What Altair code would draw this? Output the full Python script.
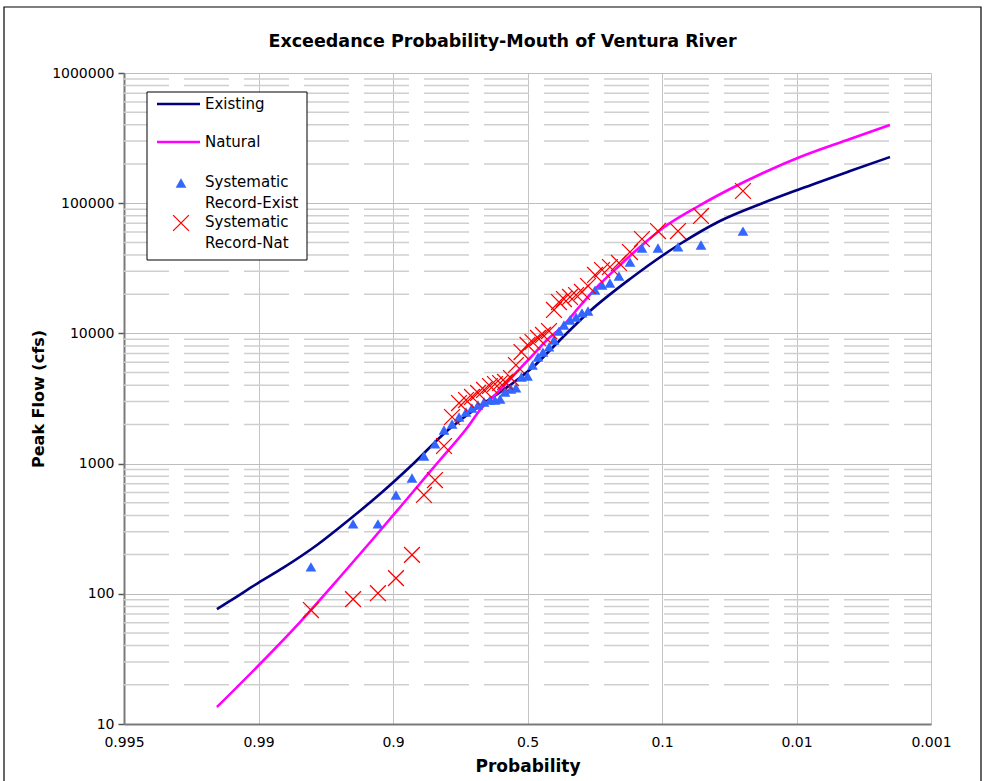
import altair as alt
import pandas as pd

# ---- axis ticks ----
prob_labels = ["0.995", "0.99", "0.9", "0.5", "0.1", "0.01", "0.001"]
flow_ticks = [10, 100, 1000, 10000, 100000, 1000000]

# ---- frequency curves (position on probability axis, peak flow cfs) ----
exist_pos = [0.691, 0.788, 0.996, 1.182, 1.435, 1.680, 1.903, 2.149, 2.401, 2.572,
             2.721, 2.892, 3.041, 3.242, 3.465, 3.762, 4.134, 4.431, 4.751, 5.026,
             5.398, 5.695]
exist_flow = [76.4, 88.1, 121, 158, 237, 375, 584, 993, 1780, 2446,
              3134, 4160, 5520, 8900, 14860, 26180, 48600, 73000, 100400, 128500,
              176600, 226300]

natural_pos = [0.691, 0.996, 1.309, 1.606, 1.851, 2.104, 2.349, 2.550, 2.647, 2.773,
               2.892, 3.019, 3.145, 3.264, 3.390, 3.539, 3.688, 3.836, 4.007, 4.260,
               4.506, 4.751, 5.026, 5.398, 5.695]
natural_flow = [13.5, 27.9, 60.7, 134.6, 263.6, 534.9, 1066, 1876, 2580, 3487,
                4708, 6471, 8900, 11400, 16230, 23950, 33500, 46130, 64500, 93500,
                128500, 170600, 226300, 311200, 398700]

# ---- systematic record (plotting positions shared by both series) ----
record_pos = [1.390, 1.703, 1.888, 2.022, 2.141, 2.230, 2.312, 2.379, 2.439, 2.491,
              2.543, 2.587, 2.632, 2.677, 2.721, 2.758, 2.796, 2.833, 2.877, 2.914,
              2.955, 3.000, 3.037, 3.078, 3.115, 3.160, 3.197, 3.234, 3.271, 3.316,
              3.361, 3.405, 3.450, 3.502, 3.554, 3.613, 3.680, 3.762, 3.851, 3.970,
              4.119, 4.290, 4.602]
record_exist = [161, 344, 344, 574, 775, 1144, 1415, 1812, 2015, 2280,
                2490, 2673, 2818, 2972, 3077, 3077, 3134, 3548, 3741, 3811,
                4624, 4708, 5718, 6590, 7194, 7870, 8900, 10430, 11600, 12670,
                13360, 14350, 14860, 21530, 23540, 24380, 27600, 35320, 45290, 45290,
                46130, 47760, 61140]
record_nat = [75, 91, 101, 132, 199, 574, 748, 1365, 2280, 2919,
              3077, 3249, 3487, 3676, 3945, 4086, 4160, 4236, 4543, 5718,
              7194, 8147, 8590, 9222, 9727, 10430, 15130, 17420, 18370, 19050,
              19720, 20800, 23120, 28110, 30690, 32360, 34750, 42170, 53090, 61140,
              61140, 79760, 124100]

NAVY = "#000080"
MAGENTA = "#ff00ff"
BLUE = "#3366ff"
RED = "#ff0000"
FONT = "DejaVu Sans"
PLOT_W, PLOT_H = 807, 651

curves = pd.DataFrame({
    "pos": exist_pos + natural_pos,
    "flow": exist_flow + natural_flow,
    "series": ["Existing"] * len(exist_pos) + ["Natural"] * len(natural_pos),
})
tri_df = pd.DataFrame({"pos": record_pos, "flow": record_exist})
cross_df = pd.DataFrame({"pos": record_pos, "flow": record_nat})
minor_df = pd.DataFrame({
    "flow": [m * d for d in flow_ticks[:-1] for m in range(2, 10)]
})
one = pd.DataFrame({"k": [0]})

label_expr = "[" + ",".join(f"'{s}'" for s in prob_labels) + "][datum.value]"

x_scale = alt.Scale(domain=[0, 6], nice=False, zero=False)
y_scale = alt.Scale(type="log", domain=[10, 1000000], nice=False)

x_axis = alt.Axis(
    values=list(range(len(prob_labels))), labelExpr=label_expr,
    title="Probability", grid=True, gridColor="#c4c4c4", gridWidth=1,
    ticks=False, domainColor="#7a7a7a", domainWidth=2,
    labelFont=FONT, labelFontSize=14, labelColor="black", labelPadding=11,
    labelFlush=False, labelOverlap=False,
    titleFont=FONT, titleFontSize=17, titleFontWeight="bold", titleColor="black",
    titleY=42, titleBaseline="middle",
)
y_axis = alt.Axis(
    values=flow_ticks, format="d", title="Peak Flow (cfs)",
    grid=True, gridColor="#bdbdbd", gridWidth=1,
    ticks=True, tickSize=6, tickColor="#555555", tickWidth=1.5,
    domainColor="#7a7a7a", domainWidth=2,
    labelFont=FONT, labelFontSize=14, labelColor="black", labelPadding=4,
    labelFlush=False, labelOverlap=False,
    titleFont=FONT, titleFontSize=16, titleFontWeight="bold", titleColor="black",
    titleX=-86, titleY=PLOT_H / 2, titleBaseline="middle", titleAngle=270,
)

X = alt.X("pos:Q", scale=x_scale, axis=x_axis)
Y = alt.Y("flow:Q", scale=y_scale, axis=y_axis)

# outer chart frame
frame = alt.Chart(one).mark_rect(fillOpacity=0, stroke="black", strokeWidth=1.2).encode(
    x=alt.value(-120), x2=alt.value(857), y=alt.value(-66), y2=alt.value(720)
)

# dashed minor gridlines between decades
minor = alt.Chart(minor_df).mark_rule(
    color="#cfcfcf", strokeWidth=1.5, strokeDash=[45, 15]
).encode(y=Y, x=alt.value(0), x2=alt.value(PLOT_W))

lines = alt.Chart(curves).mark_line(strokeWidth=2.6, interpolate="monotone").encode(
    x=X, y=Y,
    color=alt.Color("series:N", scale=alt.Scale(domain=["Existing", "Natural"],
                                                range=[NAVY, MAGENTA]), legend=None),
    order="pos:Q",
)

triangles = alt.Chart(tri_df).mark_point(
    shape="triangle-up", filled=True, color=BLUE, size=115, opacity=1
).encode(x=X, y=Y)

crosses = alt.Chart(cross_df).mark_point(
    shape="M-1,-1L1,1M-1,1L1,-1", filled=False, color=RED, size=250,
    strokeWidth=1.3, opacity=1
).encode(x=X, y=Y)

# legend box
LEG_FS = 15
legend = [
    alt.Chart(one).mark_rect(fill="white", stroke="black", strokeWidth=1).encode(
        x=alt.value(23), x2=alt.value(183), y=alt.value(19), y2=alt.value(187)
    )
]
for name, color, ly in [("Existing", NAVY, 31), ("Natural", MAGENTA, 69)]:
    legend.append(alt.Chart(one).mark_rule(color=color, strokeWidth=2.6).encode(
        x=alt.value(33), x2=alt.value(76), y=alt.value(ly)))
    legend.append(alt.Chart(one).mark_text(
        text=name, align="left", baseline="middle", font=FONT, fontSize=LEG_FS, color="black"
    ).encode(x=alt.value(81), y=alt.value(ly)))
legend.append(alt.Chart(one).mark_point(
    shape="triangle-up", filled=True, color=BLUE, size=115, opacity=1
).encode(x=alt.value(57), y=alt.value(110)))
legend.append(alt.Chart(one).mark_point(
    shape="M-1,-1L1,1M-1,1L1,-1", filled=False, color=RED, size=250,
    strokeWidth=1.3, opacity=1
).encode(x=alt.value(57), y=alt.value(150)))
for text, ly in [("Systematic", 109), ("Record-Exist", 130),
                 ("Systematic", 149), ("Record-Nat", 170)]:
    legend.append(alt.Chart(one).mark_text(
        text=text, align="left", baseline="middle", font=FONT, fontSize=LEG_FS, color="black"
    ).encode(x=alt.value(81), y=alt.value(ly)))

chart = alt.layer(frame, minor, lines, triangles, crosses, *legend).properties(
    width=PLOT_W, height=PLOT_H,
    autosize=alt.AutoSizeParams(type="none"),
    padding={"left": 124, "top": 73, "right": 53, "bottom": 57},
    background="white",
    title=alt.TitleParams(
        "Exceedance Probability-Mouth of Ventura River",
        font=FONT, fontSize=17.5, fontWeight="bold", color="black",
        anchor="middle", frame="group", dx=-25, offset=-58, baseline="alphabetic",
    ),
).configure_view(stroke=None)

chart.save("out.html", embed_options={"renderer": "svg", "actions": False})
